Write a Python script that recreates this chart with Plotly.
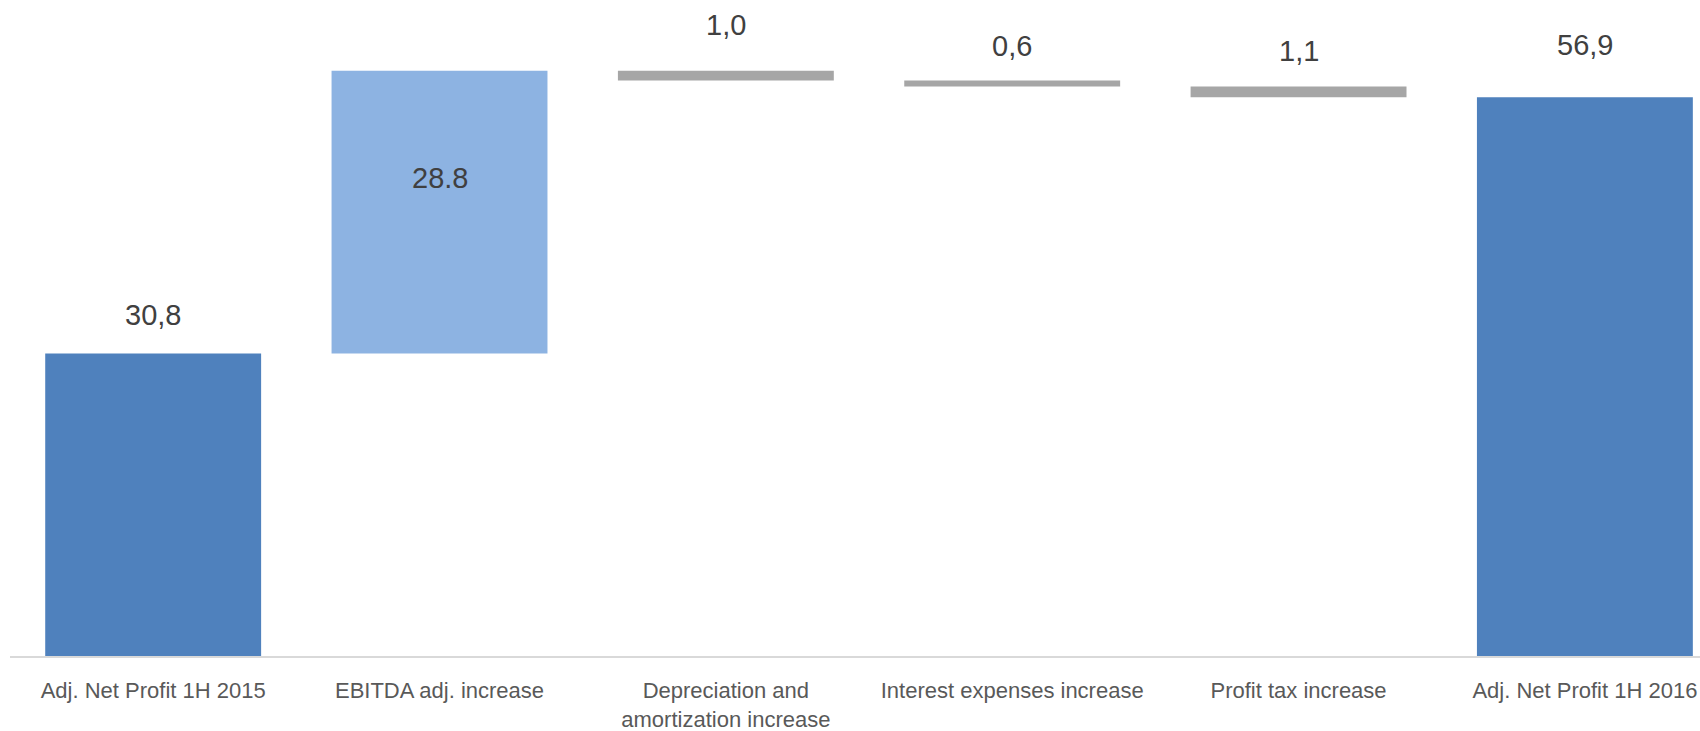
import plotly.graph_objects as go

categories = [
    "Adj. Net Profit 1H 2015",
    "EBITDA adj. increase",
    "Depreciation and<br>amortization increase",
    "Interest expenses increase",
    "Profit tax increase",
    "Adj. Net Profit 1H 2016",
]
measures = ["absolute", "relative", "relative", "relative", "relative", "total"]
values = [30.8, 28.8, -1.0, -0.6, -1.1, 56.9]
label_text = ["30,8", "28.8", "1,0", "0,6", "1,1", "56,9"]

# style: vertical pixel offset of each data label from the top of its bar
label_shift = [39, -107, 46, 35, 35, 52]

FONT = "Liberation Sans, Arial, sans-serif"
DARK_BLUE = "#4F81BD"
LIGHT_BLUE = "#8DB3E2"
GREY = "#A6A6A6"

fig = go.Figure(
    go.Waterfall(
        x=list(range(len(categories))),
        y=values,
        measure=measures,
        increasing=dict(marker=dict(color=LIGHT_BLUE)),
        decreasing=dict(marker=dict(color=GREY)),
        totals=dict(marker=dict(color=DARK_BLUE)),
        connector=dict(visible=False),
        hoverinfo="skip",
    )
)

# bar tops computed from the data
tops = []
running = 0.0
for m, v in zip(measures, values):
    if m == "absolute":
        running = v
        tops.append(v)
    elif m == "total":
        tops.append(running)
    else:
        prev = running
        running = running + v
        tops.append(max(prev, running))

for i, (t, txt, s) in enumerate(zip(tops, label_text, label_shift)):
    fig.add_annotation(
        x=i, y=t, xref="x", yref="y", text=txt, showarrow=False,
        yanchor="middle", yshift=s,
        font=dict(family=FONT, size=29, color="#404040"),
    )

fig.update_layout(
    width=1700, height=731,
    margin=dict(l=10, r=0, t=0, b=75),
    paper_bgcolor="white", plot_bgcolor="white",
    waterfallgap=0.246,
    showlegend=False,
    xaxis=dict(
        range=[-0.5, 5.402],
        tickmode="array",
        tickvals=list(range(len(categories))),
        ticktext=categories,
        tickfont=dict(family=FONT, size=22, color="#595959"),
        ticklabeloverflow="allow",
        ticklabelstandoff=14,
        showline=True, linecolor="#D9D9D9", linewidth=2,
        showgrid=False, zeroline=False, ticks="",
    ),
    yaxis=dict(
        range=[0, 66.8],
        visible=False, showgrid=False, zeroline=False,
    ),
)

fig.write_html("out.html")
